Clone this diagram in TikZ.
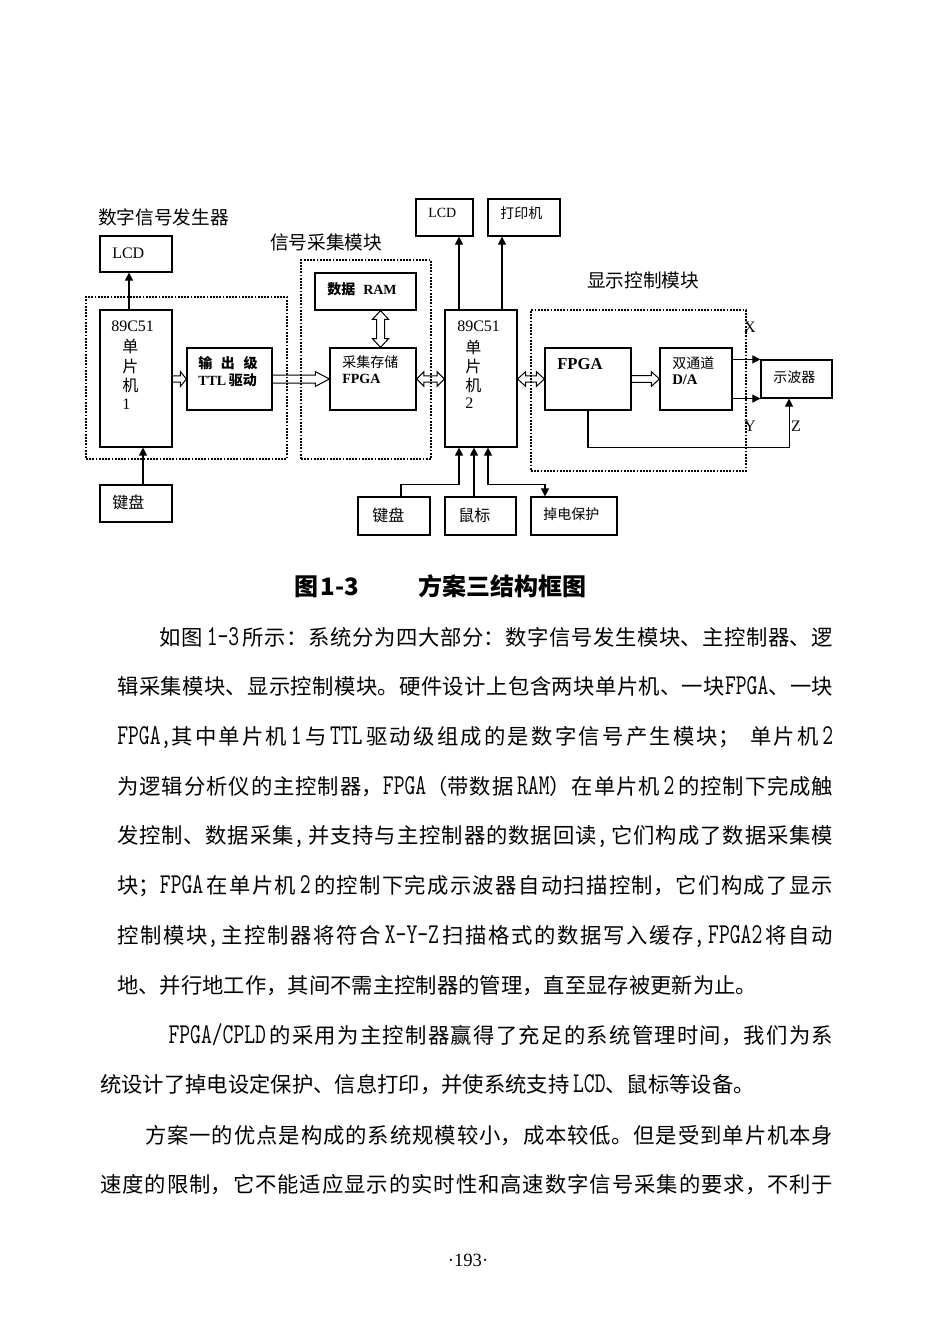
\documentclass[tikz,border=0pt]{standalone}
\usepackage{fontspec}
\setmainfont{Liberation Serif}
\newfontfamily\cjk{Noto Sans CJK SC}
\newfontfamily\lat{Latin Modern Mono}[Scale=1.35, FakeStretch=0.73]
\usetikzlibrary{arrows.meta,fit,calc}
\newcommand\fs[1]{\fontsize{#1}{#1}\selectfont}
\newcommand\lt[1]{\hbox{\lat #1}}
\newcommand\bodysetup{\fontsize{16}{37.3}\selectfont\cjk\XeTeXlinebreaklocale "zh"\XeTeXlinebreakskip=0pt plus 1fil\relax}
\tikzset{
  box/.style={draw, line width=0.9pt, inner sep=0pt, rectangle},
  dotbox/.style={draw, line width=1.4pt, dash pattern=on 1.4pt off 1pt, inner sep=0pt, rectangle},
  conn/.style={line width=0.8pt},
  arr/.style={conn, -{Triangle[length=6pt,width=6pt]}},
  arrb/.style={conn, {Triangle[length=6pt,width=6pt]}-{Triangle[length=6pt,width=6pt]}},
  hol/.style={line width=0.75pt, line join=miter},
  lab/.style={inner sep=0pt, anchor=west},
  cj/.style={lab, font=\cjk\fs{#1}},
  cjb/.style={lab, font=\cjk\bfseries\fs{#1}},
  la/.style={lab, font=\fs{#1}},
  lab2/.style={lab, font=\bfseries\fs{#1}},
}
% hollow arrow to the right: start, end, shaft half, head half, head length
\newcommand\hR[5]{\draw[hol] let \p1=(#1), \p2=(#2) in
  (\x1,\y1+#3) -- (\x2-#5,\y1+#3) -- (\x2-#5,\y1+#4) -- (\x2,\y1) -- (\x2-#5,\y1-#4) -- (\x2-#5,\y1-#3) -- (\x1,\y1-#3);}
% hollow double arrow, horizontal
\newcommand\hLR[5]{\draw[hol] let \p1=(#1), \p2=(#2) in
  (\x1,\y1) -- (\x1+#5,\y1+#4) -- (\x1+#5,\y1+#3) -- (\x2-#5,\y1+#3) -- (\x2-#5,\y1+#4) -- (\x2,\y1)
  -- (\x2-#5,\y1-#4) -- (\x2-#5,\y1-#3) -- (\x1+#5,\y1-#3) -- (\x1+#5,\y1-#4) -- cycle;}
% hollow double arrow, vertical (#1 top, #2 bottom)
\newcommand\hUD[5]{\draw[hol] let \p1=(#1), \p2=(#2) in
  (\x1,\y1) -- (\x1+#4,\y1-#5) -- (\x1+#3,\y1-#5) -- (\x1+#3,\y2+#5) -- (\x1+#4,\y2+#5) -- (\x1,\y2)
  -- (\x1-#4,\y2+#5) -- (\x1-#3,\y2+#5) -- (\x1-#3,\y1-#5) -- (\x1-#4,\y1-#5) -- cycle;}
\begin{document}
\begin{tikzpicture}[x=0.75pt,y=-0.75pt]
\useasboundingbox (0,0) rectangle (950,1344);
\path[fill=white] (0,0) rectangle (950,1344);

% ---------- boxes ----------
\node[box,fit={(100,236) (172,272)}] (lcdA) {};
\node[box,fit={(100,310) (172,447)}] (cpuA) {};
\node[box,fit={(187,348) (272,410)}] (ttl) {};
\node[box,fit={(100,485) (172,522)}] (kbA) {};
\node[box,fit={(315,273) (416,310)}] (ram) {};
\node[box,fit={(330,348) (416,410)}] (fpgaA) {};
\node[box,fit={(445,310) (517,447)}] (cpuB) {};
\node[box,fit={(416,199) (473,236)}] (lcdB) {};
\node[box,fit={(488,199) (560,236)}] (prn) {};
\node[box,fit={(545,348) (631,410)}] (fpgaB) {};
\node[box,fit={(660,348) (732,410)}] (da) {};
\node[box,fit={(761,360) (832,398)}] (scope) {};
\node[box,fit={(358,497) (430,535)}] (kbB) {};
\node[box,fit={(445,497) (516,535)}] (mouse) {};
\node[box,fit={(531,497) (617,535)}] (pwr) {};

% ---------- dotted groups ----------
\node[dotbox,fit={(86,297) (287,459)}] (grpA) {};
\node[dotbox,fit={(301,260) (431,459)}] (grpB) {};
\node[dotbox,fit={(531,310) (746,471)}] (grpC) {};

% ---------- labels ----------
\node[cj=14] (tA) at (98,217) {数字信号发生器};
\node[cj=14] (tB) at (270,242) {信号采集模块};
\node[cj=14] (tC) at (587,280) {显示控制模块};

\node[la=12] (lcdAt) at (112,253) {LCD};
\node[la=12] (cpuAt1) at (111,326) {89C51};
\node[cj=12] (cpuAt2) at (122,346) {单};
\node[cj=12] (cpuAt3) at (122,366) {片};
\node[cj=12] (cpuAt4) at (122,385) {机};
\node[la=12] (cpuAt5) at (122,404) {1};

\node[cjb=10.5] (ttlt1) at (198,363) {输\hspace{6.5pt}出\hspace{6.5pt}级};
\node[lab2=10.5] (ttlt2) at (198,380) {TTL\hspace{2pt}{\cjk 驱动}};

\node[lab2=10.5] (ramt) at (327,289) {{\cjk 数据}\hspace{6pt}RAM};
\node[cj=10.5] (fpgaAt1) at (342,362) {采集存储};
\node[lab2=10.5] (fpgaAt2) at (342,379) {FPGA};

\node[la=12] (cpuBt1) at (457,326) {89C51};
\node[cj=12] (cpuBt2) at (465,347) {单};
\node[cj=12] (cpuBt3) at (465,366) {片};
\node[cj=12] (cpuBt4) at (465,385) {机};
\node[la=12] (cpuBt5) at (465,403) {2};

\node[la=10.5] (lcdBt) at (428,213) {LCD};
\node[cj=10.5] (prnt) at (500,213) {打印机};
\node[cj=12] (kbAt) at (112,502) {键盘};
\node[cj=12] (kbBt) at (372,515) {键盘};
\node[cj=12] (mouset) at (458,515) {鼠标};
\node[cj=10.5] (pwrt) at (543,514) {掉电保护};

\node[lab2=12.5] (fpgaBt) at (557,364) {FPGA};
\node[cj=10.5] (dat1) at (672,363) {双通道};
\node[lab2=11] (dat2) at (672,380) {D/A};
\node[cj=10.5] (scopet) at (773,377) {示波器};

\node[inner sep=0pt, font=\fs{12}] (lx) at (750,327) {X};
\node[inner sep=0pt, font=\fs{12}] (ly) at (750,426) {Y};
\node[inner sep=0pt, font=\fs{12}] (lz) at (796,426) {Z};

% ---------- connectors ----------
\draw[arr] ([xshift=-5.25pt]cpuA.north) -- ([xshift=-5.25pt]cpuA.north |- lcdA.south);
\draw[arr] ([xshift=5.25pt]kbA.north) -- ([xshift=5.25pt]kbA.north |- cpuA.south);

\draw[arr] ([xshift=-16.5pt]cpuB.north) -- ([xshift=-16.5pt]cpuB.north |- lcdB.south);
\draw[arr] ([xshift=15.75pt]cpuB.north) -- ([xshift=15.75pt]cpuB.north |- prn.south);

\draw[arr] ([xshift=5.25pt]kbB.north) -- ++(0,-12) -| ([xshift=-16.5pt]cpuB.south);
\draw[arr] ([xshift=-5.25pt]cpuB.south |- mouse.north) -- ([xshift=-5.25pt]cpuB.south);
\draw[arrb] ([xshift=-21.75pt]pwr.north) -- ++(0,-12) -| ([xshift=5.25pt]cpuB.south);

\draw[arr] (fpgaB.south) -- ++(0,37) -| ([xshift=-5.6pt]scope.south);
\draw[arr] (da.east |- scope.north west) -- (scope.north west);
\draw[arr] (da.east |- scope.south west) -- (scope.south west);

% hollow bus arrows
\coordinate (ramArr) at ([xshift=11.25pt]ram.south);
\hR{cpuA.east |- ttl.west}{ttl.west}{2.4pt}{5.5pt}{4.5pt}
\hR{ttl.east}{ttl.east -| fpgaA.west}{3pt}{5.5pt}{10.5pt}
\hUD{ramArr}{ramArr |- fpgaA.north}{3pt}{6pt}{6.5pt}
\hLR{fpgaA.east}{fpgaA.east -| cpuB.west}{2.4pt}{5.5pt}{5.5pt}
\hLR{cpuB.east |- fpgaB.west}{fpgaB.west}{2.4pt}{5.5pt}{6pt}
\hR{fpgaB.east}{da.west}{2.6pt}{5.5pt}{6pt}

% ---------- caption ----------
\node[anchor=base west, inner sep=0pt, font=\cjk\bfseries\fs{18}] (capA) at (294,595) {图\hspace{2pt}1-3};
\node[anchor=base west, inner sep=0pt, font=\cjk\bfseries\fs{18}] (capB) at (418,595) {方案三结构框图};

% ---------- body text ----------
\node[anchor=base west, inner sep=0pt, text width=537pt] (par1) at (117,645) {\bodysetup\parfillskip=0pt plus 1fill\relax
\hspace*{2em}如图\,\lt{1-3}\,所示：系统分为四大部分：数字信号发生模块、主控制器、逻\break
辑采集模块、显示控制模块。硬件设计上包含两块单片机、一块\lt{FPGA}、一块\break
\lt{FPGA,}其中单片机\,\lt{1}\,与\,\lt{TTL}\,驱动级组成的是数字信号产生模块；\hspace{0.5em}单片机\,\lt{2}\break
为逻辑分析仪的主控制器，\lt{FPGA}（带数据\,\lt{RAM}）在单片机\,\lt{2}\,的控制下完成触\break
发控制、数据采集\lt{,}\,并支持与主控制器的数据回读\lt{,}\,它们构成了数据采集模\break
块；\lt{FPGA}\,在单片机\,\lt{2}\,的控制下完成示波器自动扫描控制，它们构成了显示\break
控制模块\lt{,}\,主控制器将符合\,\lt{X-Y-Z}\,扫描格式的数据写入缓存\lt{,}\,\lt{FPGA2}\,将自动\break
地、并行地工作，其间不需主控制器的管理，直至显存被更新为止。\par};

\node[anchor=base west, inner sep=0pt, text width=549.75pt] (par2) at (100,1043) {\bodysetup\parfillskip=0pt plus 1fill\relax
\hspace*{3.2em}\lt{FPGA/CPLD}\,的采用为主控制器赢得了充足的系统管理时间，我们为系\break
统设计了掉电设定保护、信息打印，并使系统支持\,\lt{LCD}、鼠标等设备。\par};

\node[anchor=base west, inner sep=0pt, text width=549.75pt] (par3) at (100,1143) {\bodysetup\parfillskip=0pt\relax
\hspace*{2.1em}方案一的优点是构成的系统规模较小，成本较低。但是受到单片机本身\break
速度的限制，它不能适应显示的实时性和高速数字信号采集的要求，不利于\par};

\node[inner sep=0pt, font=\fs{14}] (pg) at (468,1260) {·193·};
\end{tikzpicture}
\end{document}
